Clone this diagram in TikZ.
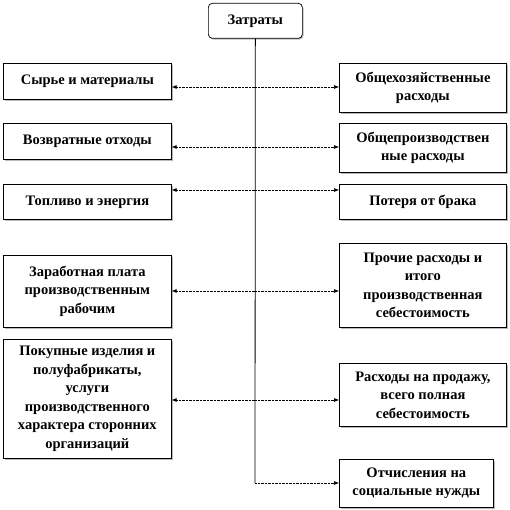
\documentclass[tikz,border=0pt]{standalone}
\usepackage{fontspec}
\setmainfont{Liberation Serif}
\usetikzlibrary{arrows.meta,shadows}
\begin{document}
\begin{tikzpicture}[x=1pt,y=-1pt,
  box/.style={draw=black, line width=0.7pt, fill=white, anchor=north west,
    align=center, inner sep=1pt,
    font=\fontsize{14.5}{18.5}\selectfont\bfseries,
    drop shadow={shadow xshift=1.2pt, shadow yshift=-1.2pt, fill=gray!55, opacity=1}},
  conn/.style={line width=0.6pt, dash pattern=on 0.7pt off 0.7pt,
    -{Latex[length=5pt,width=4pt]}},
  trunk/.style={line width=0.8pt}]
\useasboundingbox (0,0) rectangle (510,510);
% top
\node[box, rounded corners=4pt, minimum width=94pt, minimum height=35pt] (top) at (208,3) {Затраты};
% left boxes
\node[box, minimum width=168pt, minimum height=36pt] (L1) at (3,63) {Сырье и материалы};
\node[box, minimum width=168pt, minimum height=36pt] (L2) at (3,123) {Возвратные отходы};
\node[box, minimum width=168pt, minimum height=35pt] (L3) at (3,184) {Топливо и энергия};
\node[box, minimum width=168pt, minimum height=72pt] (L4) at (3,255) {Заработная плата\\производственным\\рабочим};
\node[box, minimum width=168pt, minimum height=119pt] (L5) at (3,339) {Покупные изделия и\\полуфабрикаты,\\услуги\\производственного\\характера сторонних\\организаций};
% right boxes
\node[box, minimum width=167pt, minimum height=49pt] (R1) at (339,63) {Общехозяйственные\\расходы};
\node[box, minimum width=167pt, minimum height=49pt] (R2) at (339,123) {Общепроизводствен\\ные расходы};
\node[box, minimum width=167pt, minimum height=35pt] (R3) at (339,184) {Потеря от брака};
\node[box, minimum width=167pt, minimum height=84pt] (R4) at (339,243) {Прочие расходы и\\итого\\производственная\\себестоимость};
\node[box, minimum width=167pt, minimum height=63pt] (R5) at (339,363) {Расходы на продажу,\\всего полная\\себестоимость};
\node[box, minimum width=154pt, minimum height=48pt] (R6) at (339,459) {Отчисления на\\социальные нужды};
% junctions on trunk
\coordinate (j1) at (255,87);
\coordinate (j2) at (255,147);
\coordinate (j3) at (255,190);
\coordinate (j4) at (255,291);
\coordinate (j5) at (255,400);
\coordinate (j6) at (255,483);
\draw[trunk] (top.south) -- (j6);
\draw[conn] (j1) -- (L1.east |- j1);
\draw[conn] (j1) -- (R1.west |- j1);
\draw[conn] (j2) -- (L2.east |- j2);
\draw[conn] (j2) -- (R2.west |- j2);
\draw[conn] (j3) -- (L3.east |- j3);
\draw[conn] (j3) -- (R3.west |- j3);
\draw[conn] (j4) -- (L4.east |- j4);
\draw[conn] (j4) -- (R4.west |- j4);
\draw[conn] (j5) -- (L5.east |- j5);
\draw[conn] (j5) -- (R5.west |- j5);
\draw[conn] (j6) -- (R6.west |- j6);
\end{tikzpicture}
\end{document}
